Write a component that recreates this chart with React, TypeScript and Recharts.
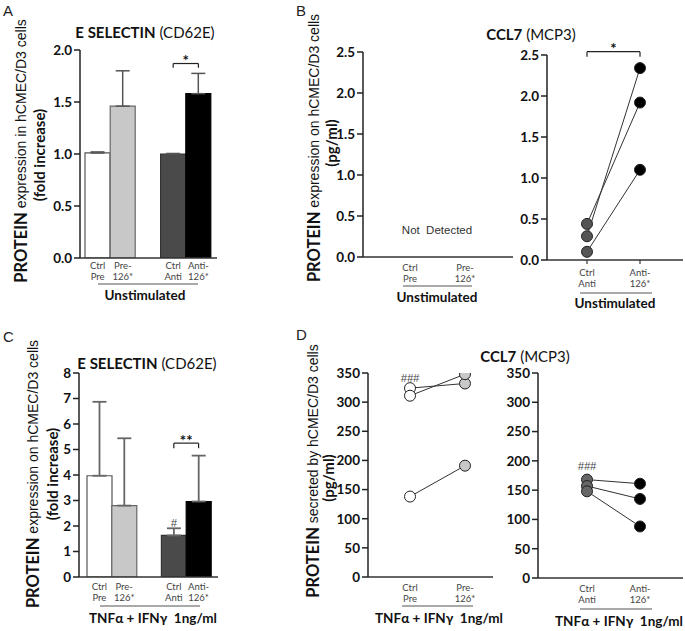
import React from 'react';
import {
  BarChart, Bar, XAxis, YAxis, ErrorBar, Cell, ReferenceLine, ReferenceDot, LineChart, Line,
} from 'recharts';

// ---------- data ----------
const barCategories = ['Ctrl\nPre', 'Pre-\n126*', '', 'Ctrl\nAnti', 'Anti-\n126*'];
const barFills = ['#ffffff', '#c8c8c8', 'none', '#4a4a4a', '#000000'];
const barStrokes = ['#555555', '#666666', 'none', '#333333', '#000000'];

const eselUnstimMean = [1.01, 1.46, null, 1.0, 1.58];
const eselUnstimSem = [0.01, 0.34, null, 0.005, 0.195];
const eselTnfMean = [3.97, 2.8, null, 1.63, 2.96];
const eselTnfSem = [2.9, 2.64, null, 0.28, 1.8];

const preCategories = ['Ctrl\nPre', 'Pre-\n126*'];
const antiCategories = ['Ctrl\nAnti', 'Anti-\n126*'];

const ccl7UnstimCtrlAnti = [0.29, 0.44, 0.1];
const ccl7UnstimAnti126 = [2.34, 1.92, 1.1];

const ccl7TnfCtrlPre = [324, 311, 138];
const ccl7TnfPre126 = [332, 348, 191];
const ccl7TnfCtrlAnti = [168, 157, 148];
const ccl7TnfAnti126 = [161, 135, 88];

const ticksA = [0, 0.5, 1.0, 1.5, 2.0];
const ticksB = [0, 0.5, 1.0, 1.5, 2.0, 2.5];
const ticksC = [0, 1, 2, 3, 4, 5, 6, 7, 8];
const ticksD = [0, 50, 100, 150, 200, 250, 300, 350];

// ---------- tables built from arrays ----------
const barRows = (mean: (number | null)[], sem: (number | null)[]) =>
  barCategories.map((cat, i) => ({
    cat,
    mean: mean[i],
    err: sem[i] == null ? undefined : [0, sem[i]],
  }));

const pairRows = (cats: string[], left: number[], right: number[]) => [
  { cat: cats[0], s0: left[0], s1: left[1], s2: left[2] },
  { cat: cats[1], s0: right[0], s1: right[1], s2: right[2] },
];

const rowsA = barRows(eselUnstimMean, eselUnstimSem);
const rowsC = barRows(eselTnfMean, eselTnfSem);
const rowsBL = preCategories.map((cat) => ({ cat, nd: null }));
const rowsBR = pairRows(antiCategories, ccl7UnstimCtrlAnti, ccl7UnstimAnti126);
const rowsDL = pairRows(preCategories, ccl7TnfCtrlPre, ccl7TnfPre126);
const rowsDR = pairRows(antiCategories, ccl7TnfCtrlAnti, ccl7TnfAnti126);

// ---------- styling helpers ----------
const FB = 'Lato, "Open Sans", sans-serif';
const FR = '"Liberation Sans", Arial, sans-serif';
const AX = '#222';
const NB = '\u00A0';
const LINE_GAP = 11.4;

const catTick = (d1: number) => (p: any) => {
  const v = String(p.payload?.value ?? '');
  if (!v) return <g />;
  const [a, b] = v.split('\n');
  return (
    <text x={p.x} y={p.y + d1} textAnchor="middle" fontFamily={FB} fontSize={9.5} fill="#444">
      <tspan x={p.x}>{a}</tspan>
      <tspan x={p.x} dy={LINE_GAP}>{b}</tspan>
    </text>
  );
};

const yTick = { fontFamily: FB, fontWeight: 700, fontSize: 13.5, fill: '#111' };

const makeDot = (fills: string[], r: number) => (p: any) => (
  <circle
    key={`dot-${p.dataKey}-${p.index}`}
    cx={p.cx}
    cy={p.cy}
    r={r}
    fill={fills[p.index]}
    stroke="#222"
    strokeWidth={1}
  />
);

const starLabel = (text: string, dy: number) => (p: any) => {
  const vb = p.viewBox || {};
  return (
    <text x={vb.x + (vb.width || 0) / 2} y={vb.y + dy} textAnchor="middle" fontFamily={FB} fontWeight={700} fontSize={15} fill="#111">
      {text}
    </text>
  );
};

const hashLabel = (text: string) => (p: any) => {
  const vb = p.viewBox || {};
  return (
    <text x={vb.x + (vb.width || 0) / 2} y={vb.y + (vb.height || 0) / 2 + 4} textAnchor="middle" fontFamily={FR} fontStyle="italic" fontSize={11} fill="#444">
      {text}
    </text>
  );
};

const lineSeries = ['s0', 's1', 's2'];
const yAxisLine = { stroke: AX, strokeWidth: 1.5 };

export default function App() {
  const wrap = (left: number, top: number): React.CSSProperties => ({ position: 'absolute', left, top });
  return (
    <div style={{ position: 'absolute', left: 0, top: 0, width: 685, height: 631, background: '#fff', overflow: 'hidden' }}>
      {/* Panel A */}
      <div style={wrap(0, 0)}>
        <BarChart width={230} height={310} data={rowsA} margin={{ top: 50, right: 13, left: 0, bottom: 22 }} barCategoryGap={0} barGap={0}>
          <XAxis dataKey="cat" height={30} interval={0} padding={{ left: 5, right: 6 }} tickLine={false} tickSize={0} tickMargin={0}
            axisLine={{ stroke: '#333', strokeWidth: 1.5 }} tick={catTick(10.5)} />
          <YAxis width={80} domain={[0, 2]} allowDataOverflow ticks={ticksA} tickFormatter={(v: number) => v.toFixed(1)} interval={0}
            axisLine={yAxisLine} tickLine={yAxisLine} tickSize={6} tickMargin={2} tick={yTick} />
          <Bar dataKey="mean" isAnimationActive={false} strokeWidth={1.2}>
            {rowsA.map((r, i) => <Cell key={i} fill={barFills[i]} stroke={barStrokes[i]} />)}
            <ErrorBar dataKey="err" direction="y" width={7} stroke="#555" strokeWidth={1.5} isAnimationActive={false} />
          </Bar>
          <ReferenceLine ifOverflow="visible" segment={[{ x: barCategories[3], y: 1.87 }, { x: barCategories[4], y: 1.87 }]} stroke="#222" strokeWidth={1.2}
            label={starLabel('*', 2)} />
          <ReferenceLine ifOverflow="visible" segment={[{ x: barCategories[3], y: 1.87 }, { x: barCategories[3], y: 1.83 }]} stroke="#222" strokeWidth={1.2} />
          <ReferenceLine ifOverflow="visible" segment={[{ x: barCategories[4], y: 1.87 }, { x: barCategories[4], y: 1.83 }]} stroke="#222" strokeWidth={1.2} />
        </BarChart>
      </div>

      {/* Panel C */}
      <div style={wrap(0, 310)}>
        <BarChart width={230} height={321} data={rowsC} margin={{ top: 63, right: 12, left: 0, bottom: 24 }} barCategoryGap={0} barGap={0}>
          <XAxis dataKey="cat" height={30} interval={0} padding={{ left: 8, right: 7 }} tickLine={false} tickSize={0} tickMargin={0}
            axisLine={{ stroke: '#333', strokeWidth: 1.5 }} tick={catTick(13)} />
          <YAxis width={79} domain={[0, 8]} allowDataOverflow ticks={ticksC} interval={0}
            axisLine={yAxisLine} tickLine={yAxisLine} tickSize={6} tickMargin={2} tick={yTick} />
          <Bar dataKey="mean" isAnimationActive={false} strokeWidth={1.2}>
            {rowsC.map((r, i) => <Cell key={i} fill={barFills[i]} stroke={barStrokes[i]} />)}
            <ErrorBar dataKey="err" direction="y" width={7} stroke="#666" strokeWidth={1.8} isAnimationActive={false} />
          </Bar>
          <ReferenceLine ifOverflow="visible" segment={[{ x: barCategories[3], y: 5.25 }, { x: barCategories[4], y: 5.25 }]} stroke="#222" strokeWidth={1.2}
            label={starLabel('**', 3)} />
          <ReferenceLine ifOverflow="visible" segment={[{ x: barCategories[3], y: 5.25 }, { x: barCategories[3], y: 5.05 }]} stroke="#222" strokeWidth={1.2} />
          <ReferenceLine ifOverflow="visible" segment={[{ x: barCategories[4], y: 5.25 }, { x: barCategories[4], y: 5.05 }]} stroke="#222" strokeWidth={1.2} />
          <ReferenceDot ifOverflow="visible" x={barCategories[3]} y={2.1} r={0} fill="none" stroke="none" label={hashLabel('#')} />
        </BarChart>
      </div>

      {/* Panel B left */}
      <div style={wrap(300, 0)}>
        <LineChart width={220} height={310} data={rowsBL} margin={{ top: 52, right: 7, left: 0, bottom: 23 }}>
          <XAxis dataKey="cat" height={30} interval={0} scale="point" padding={{ left: 47, right: 48 }} tickLine={false} tickSize={0} tickMargin={0}
            axisLine={{ stroke: '#333', strokeWidth: 1.5 }} tick={catTick(13.5)} />
          <YAxis type="number" width={63} domain={[0, 2.5]} allowDataOverflow ticks={ticksB} tickFormatter={(v: number) => v.toFixed(1)} interval={0}
            axisLine={yAxisLine} tickLine={yAxisLine} tickSize={6} tickMargin={2} tick={yTick} />
          <Line dataKey="nd" isAnimationActive={false} dot={false} stroke="none" />
        </LineChart>
      </div>

      {/* Panel B right */}
      <div style={wrap(500, 0)}>
        <LineChart width={185} height={310} data={rowsBR} margin={{ top: 55, right: 2, left: 0, bottom: 20 }}>
          <XAxis dataKey="cat" height={30} interval={0} scale="point" padding={{ left: 40, right: 43 }} tickSize={4} tickMargin={0}
            tickLine={{ stroke: '#333', strokeWidth: 1.2 }}
            axisLine={{ stroke: '#333', strokeWidth: 1.5 }} tick={catTick(11.5)} />
          <YAxis width={47} domain={[0, 2.5]} allowDataOverflow ticks={ticksB} tickFormatter={(v: number) => v.toFixed(1)} interval={0}
            axisLine={yAxisLine} tickLine={yAxisLine} tickSize={6} tickMargin={2} tick={yTick} />
          {lineSeries.map((k) => (
            <Line key={k} dataKey={k} isAnimationActive={false} stroke="#333" strokeWidth={1}
              dot={makeDot(['#555555', '#000000'], 5.5)} activeDot={false} />
          ))}
          <ReferenceLine ifOverflow="visible" segment={[{ x: antiCategories[0], y: 2.54 }, { x: antiCategories[1], y: 2.54 }]} stroke="#222" strokeWidth={1.2}
            label={starLabel('*', 2)} />
          <ReferenceLine ifOverflow="visible" segment={[{ x: antiCategories[0], y: 2.54 }, { x: antiCategories[0], y: 2.48 }]} stroke="#222" strokeWidth={1.2} />
          <ReferenceLine ifOverflow="visible" segment={[{ x: antiCategories[1], y: 2.54 }, { x: antiCategories[1], y: 2.48 }]} stroke="#222" strokeWidth={1.2} />
        </LineChart>
      </div>

      {/* Panel D left */}
      <div style={wrap(300, 310)}>
        <LineChart width={200} height={321} data={rowsDL} margin={{ top: 63, right: 7, left: 0, bottom: 24 }}>
          <XAxis dataKey="cat" height={30} interval={0} scale="point" padding={{ left: 42, right: 28 }} tickLine={false} tickSize={0} tickMargin={0}
            axisLine={{ stroke: '#333', strokeWidth: 1.5 }} tick={catTick(13.5)} />
          <YAxis width={68} domain={[0, 350]} allowDataOverflow ticks={ticksD} interval={0}
            axisLine={yAxisLine} tickLine={yAxisLine} tickSize={6} tickMargin={2} tick={yTick} />
          {lineSeries.map((k) => (
            <Line key={k} dataKey={k} isAnimationActive={false} stroke="#333" strokeWidth={1}
              dot={makeDot(['#ffffff', '#c8c8c8'], 5.5)} activeDot={false} />
          ))}
          <ReferenceDot ifOverflow="visible" x={preCategories[0]} y={342} r={0} fill="none" stroke="none" label={hashLabel('###')} />
        </LineChart>
      </div>

      {/* Panel D right */}
      <div style={wrap(495, 310)}>
        <LineChart width={190} height={321} data={rowsDR} margin={{ top: 63, right: 2, left: 0, bottom: 23 }}>
          <XAxis dataKey="cat" height={30} interval={0} scale="point" padding={{ left: 49, right: 43 }} tickLine={false} tickSize={0} tickMargin={0}
            axisLine={{ stroke: '#333', strokeWidth: 1.5 }} tick={catTick(14)} />
          <YAxis width={43} domain={[0, 350]} allowDataOverflow ticks={ticksD} interval={0}
            axisLine={yAxisLine} tickLine={yAxisLine} tickSize={6} tickMargin={2} tick={yTick} />
          {lineSeries.map((k) => (
            <Line key={k} dataKey={k} isAnimationActive={false} stroke="#333" strokeWidth={1}
              dot={makeDot(['#666666', '#000000'], 5.5)} activeDot={false} />
          ))}
          <ReferenceDot ifOverflow="visible" x={antiCategories[0]} y={192} r={0} fill="none" stroke="none" label={hashLabel('###')} />
        </LineChart>
      </div>

      {/* Overlay text */}
      <svg width={685} height={631} style={{ position: 'absolute', left: 0, top: 0, pointerEvents: 'none' }}>
        <g fontFamily={FR} fontSize={15} fill="#222">
          <text x={3} y={16}>A</text>
          <text x={296} y={16}>B</text>
          <text x={3} y={342}>C</text>
          <text x={296} y={340}>D</text>
        </g>

        <g fontFamily={FB} fontSize={15} fill="#111" textAnchor="middle">
          <text x={145} y={38}><tspan fontWeight={700}>E SELECTIN</tspan><tspan> (CD62E)</tspan></text>
          <text x={531} y={40}><tspan fontWeight={700}>CCL7</tspan><tspan> (MCP3)</tspan></text>
          <text x={147} y={369}><tspan fontWeight={700}>E SELECTIN</tspan><tspan> (CD62E)</tspan></text>
          <text x={525} y={362}><tspan fontWeight={700}>CCL7</tspan><tspan> (MCP3)</tspan></text>
        </g>

        <g fill="#111" textAnchor="middle" dominantBaseline="central">
          <text transform="translate(21,151) rotate(-90)" fontFamily={FR} fontSize={14}>
            <tspan fontFamily={FB} fontWeight={700} fontSize={16.5}>PROTEIN</tspan> expression in hCMEC/D3 cells</text>
          <text transform="translate(39,155) rotate(-90)" fontFamily={FB} fontWeight={700} fontSize={15}>(fold increase)</text>

          <text transform="translate(314,148) rotate(-90)" fontFamily={FR} fontSize={14}>
            <tspan fontFamily={FB} fontWeight={700} fontSize={16.5}>PROTEIN</tspan> expression on hCMEC/D3 cells</text>
          <text transform="translate(331,143) rotate(-90)" fontFamily={FB} fontWeight={700} fontSize={15}>(pg/ml)</text>

          <text transform="translate(33,474) rotate(-90)" fontFamily={FR} fontSize={14}>
            <tspan fontFamily={FB} fontWeight={700} fontSize={16.5}>PROTEIN</tspan> expression on hCMEC/D3 cells</text>
          <text transform="translate(52,474) rotate(-90)" fontFamily={FB} fontWeight={700} fontSize={15}>(fold increase)</text>

          <text transform="translate(313,471) rotate(-90)" fontFamily={FR} fontSize={14}>
            <tspan fontFamily={FB} fontWeight={700} fontSize={16.5}>PROTEIN</tspan> secreted by hCMEC/D3 cells</text>
          <text transform="translate(328,478) rotate(-90)" fontFamily={FB} fontWeight={700} fontSize={15}>(pg/ml)</text>
        </g>

        <g stroke="#555" strokeWidth={1.2}>
          <line x1={98} x2={198} y1={284} y2={284} />
          <line x1={403} x2={472} y1={286} y2={286} />
          <line x1={580} x2={652} y1={293} y2={293} />
          <line x1={100} x2={200} y1={606} y2={606} />
          <line x1={402} x2={473} y1={606} y2={606} />
          <line x1={580} x2={652} y1={609} y2={609} />
        </g>

        <g fontFamily={FB} fontWeight={700} fontSize={13.5} fill="#111" textAnchor="middle">
          <text x={145} y={300}>Unstimulated</text>
          <text x={437} y={302}>Unstimulated</text>
          <text x={615} y={308}>Unstimulated</text>
          <text x={153} y={623}>{`TNFα + IFNγ${NB} 1ng/ml`}</text>
          <text x={439} y={623}>{`TNFα + IFNγ${NB} 1ng/ml`}</text>
          <text x={619} y={626}>{`TNFα + IFNγ${NB} 1ng/ml`}</text>
        </g>

        <text x={437} y={234} textAnchor="middle" fontFamily={FR} fontSize={11.5} fill="#333">{`Not${NB} Detected`}</text>
      </svg>
    </div>
  );
}
